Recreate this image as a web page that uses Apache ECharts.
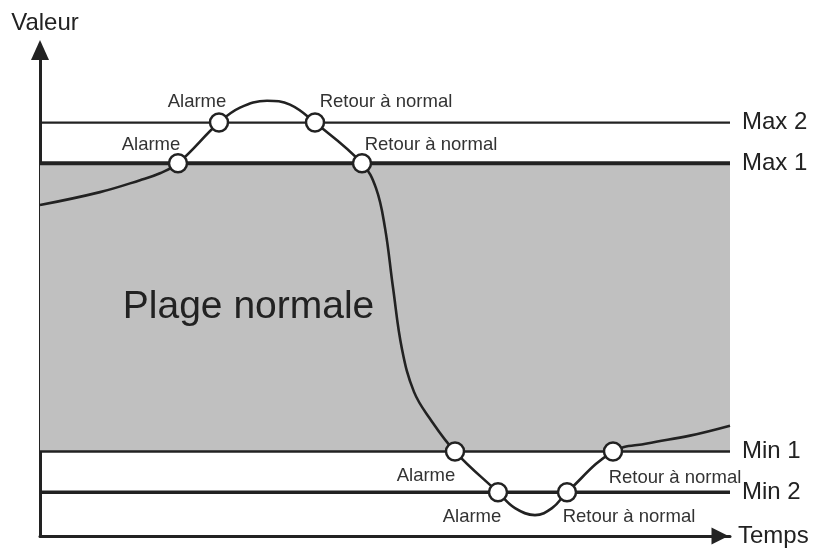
<!DOCTYPE html>
<html>
<head>
<meta charset="utf-8">
<script src="https://cdn.jsdelivr.net/npm/echarts@6/dist/echarts.min.js"></script>
<style>
  html, body { margin: 0; padding: 0; background: #fff; }
  #main { width: 819px; height: 548px; }
</style>
</head>
<body>
<div id="main"></div>
<script>
// seuils
var levelNames = ['Max 2', 'Max 1', 'Min 1', 'Min 2'];
var levelValues = [416, 375, 85, 44];

// courbe mesurée (temps, valeur)
var timeX = [0, 60, 100, 120, 138, 179, 200, 227, 250, 275, 322, 336, 345, 353, 362, 374, 390, 415, 458, 475, 495, 512, 527, 573, 607, 650, 690];
var valueY = [333, 346, 358, 365, 375, 416, 431, 438, 434, 416, 375, 350, 310, 250, 188, 145, 118, 85, 44, 28, 21, 28, 44, 85, 93, 101, 111];

// passages de seuil
var eventX = [138, 179, 275, 322, 415, 458, 527, 573];
var eventY = [375, 416, 416, 375, 85, 44, 44, 85];
var eventText = ['Alarme', 'Alarme', 'Retour à normal', 'Retour à normal', 'Alarme', 'Alarme', 'Retour à normal', 'Retour à normal'];

var xMax = 690;
var yMax = 489;

var FONT = 'Liberation Sans, Arial, sans-serif';
var INK = '#222';
var levelWidths = [2.3, 4, 2.5, 3.3];
var labelOffsets = [[-27, -18], [-22, -21], [71, -21], [69, -18], [-29, 24], [-26, 25], [62, 25], [62, 26]];

var chartDom = document.getElementById('main');
var myChart = echarts.init(chartDom);
var option;

var levelSeries = levelNames.map(function (name, i) {
  return {
    type: 'line',
    name: name,
    z: 3,
    silent: true,
    symbol: 'none',
    lineStyle: { color: INK, width: levelWidths[i] },
    data: [[0, levelValues[i]], [xMax, levelValues[i]]],
    endLabel: {
      show: true,
      formatter: name,
      distance: 12,
      fontSize: 24,
      fontFamily: FONT,
      color: INK
    }
  };
});

option = {
  animation: false,
  grid: { left: 40, right: 89, top: 50, bottom: 9 },
  xAxis: {
    type: 'value',
    min: 0,
    max: xMax,
    name: 'Temps',
    nameLocation: 'end',
    nameGap: 8,
    nameTextStyle: { fontSize: 24, fontFamily: FONT, color: INK },
    axisLine: {
      lineStyle: { color: INK, width: 3 },
      symbol: ['none', 'triangle'],
      symbolSize: [17, 17],
      symbolOffset: [0, -10]
    },
    axisTick: { show: false },
    axisLabel: { show: false },
    splitLine: { show: false }
  },
  yAxis: {
    type: 'value',
    min: 0,
    max: yMax,
    name: 'Valeur',
    nameLocation: 'end',
    nameGap: 15,
    nameTextStyle: { fontSize: 24, fontFamily: FONT, color: INK, padding: [0, 0, 0, 10] },
    axisLine: {
      lineStyle: { color: INK, width: 3 },
      symbol: ['none', 'triangle'],
      symbolSize: [18, 20],
      symbolOffset: [0, 0]
    },
    axisTick: { show: false },
    axisLabel: { show: false },
    splitLine: { show: false }
  },
  series: [
    {
      type: 'line',
      z: 1,
      silent: true,
      symbol: 'none',
      lineStyle: { width: 0 },
      data: [],
      markArea: {
        silent: true,
        itemStyle: { color: '#c0c0c0', opacity: 1 },
        label: {
          show: true,
          position: ['12%', '50%'],
          align: 'left',
          verticalAlign: 'middle',
          fontSize: 39,
          fontFamily: FONT,
          color: INK
        },
        data: [[{ name: 'Plage normale', yAxis: levelValues[2] }, { yAxis: levelValues[1] }]]
      }
    }
  ].concat(levelSeries).concat([
    {
      type: 'line',
      z: 4,
      silent: true,
      symbol: 'none',
      smooth: 0.4,
      lineStyle: { color: INK, width: 2.6 },
      data: timeX.map(function (x, i) { return [x, valueY[i]]; })
    },
    {
      type: 'scatter',
      z: 5,
      silent: true,
      symbol: 'circle',
      symbolSize: 18,
      itemStyle: { color: '#fff', borderColor: INK, borderWidth: 2.5, opacity: 1 },
      label: {
        show: true,
        position: 'inside',
        fontSize: 18.5,
        fontFamily: FONT,
        color: '#333'
      },
      data: eventX.map(function (x, i) {
        return {
          value: [x, eventY[i]],
          label: { formatter: eventText[i], offset: labelOffsets[i] }
        };
      })
    }
  ])
};

option && myChart.setOption(option);
</script>
</body>
</html>
